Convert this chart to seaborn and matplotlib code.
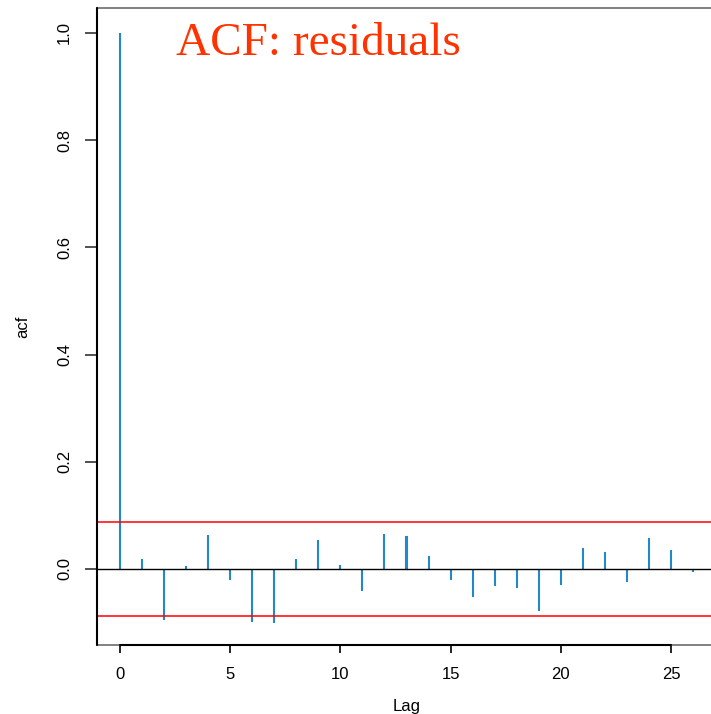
import matplotlib
matplotlib.use("Agg")
import matplotlib.pyplot as plt
import matplotlib.transforms as mtransforms
import seaborn as sns
import pandas as pd

lags = list(range(27))
acf_values = [1.0, 0.019, -0.096, 0.005, 0.064, -0.021, -0.098, -0.100, 0.018,
              0.055, 0.008, -0.041, 0.066, 0.060, 0.025, -0.021, -0.052, -0.032,
              -0.036, -0.078, -0.030, 0.039, 0.032, -0.024, 0.058, 0.036, -0.006]
conf_bound = 0.0877
x_ticks = [0, 5, 10, 15, 20, 25]
y_ticks = [0.0, 0.2, 0.4, 0.6, 0.8, 1.0]
y_tick_labels = ["0.0", "0.2", "0.4", "0.6", "0.8", "1.0"]
title = "ACF: residuals"

sns.set_style("white")
plt.rcParams["font.family"] = ["Liberation Sans", "DejaVu Sans"]
plt.rcParams["text.color"] = "black"
plt.rcParams["axes.labelcolor"] = "black"
plt.rcParams["xtick.color"] = "black"
plt.rcParams["ytick.color"] = "black"

df = pd.DataFrame({"lag": lags, "acf": acf_values})

fig = plt.figure(figsize=(7.11, 7.14), dpi=100)
ax = fig.add_axes([97/711, 1 - 645/714, (716 - 97)/711, (645 - 8)/714])

blue = "#2188c9"
sns.barplot(data=df, x="lag", y="acf", native_scale=True, width=0.001,
            color=blue, saturation=1, edgecolor=blue, linewidth=1.5, ax=ax)

ax.axhline(0, color="black", lw=1, zorder=3)
ax.axhline(conf_bound, color="#ff0000", lw=1.1, zorder=3)
ax.axhline(-conf_bound, color="#ff0000", lw=1.1, zorder=3)

ax.set_xlim(-1.04, 27.04)
ax.set_ylim(-0.1418, 1.0466)
ax.set_xticks(x_ticks)
ax.set_xticklabels([str(t) for t in x_ticks])
ax.set_yticks(y_ticks)
ax.set_yticklabels(y_tick_labels, rotation=90, va="center")

for s in ax.spines.values():
    s.set_visible(True)
    s.set_color("#777777")
    s.set_linewidth(1.3)

# R-style axis lines (black) spanning from first to last tick
trans_x = mtransforms.blended_transform_factory(ax.transData, ax.transAxes)
ax.plot([0, 25], [0, 0], transform=trans_x, color="black", lw=1.5, clip_on=False, zorder=5)
trans_y = mtransforms.blended_transform_factory(ax.transAxes, ax.transData)
ax.plot([0, 0], [-0.1418, 1.0466], transform=trans_y, color="black", lw=1.5, clip_on=False, zorder=5)

ax.tick_params(axis="x", direction="out", length=6, width=1.2, color="black",
               pad=10, labelsize=12, bottom=True, labelcolor="black")
ax.tick_params(axis="y", direction="out", length=9, width=1.2, color="#333333",
               pad=9, labelsize=12, left=True, labelcolor="black")

ax.set_xlabel("Lag", fontsize=12, labelpad=12, color="black")
ax.set_ylabel("acf", fontsize=12, labelpad=19, color="black")

fig.text(318/711, 1 - 55/714, title, ha="center", va="baseline",
         fontsize=34, color="#ff3300", family=["Liberation Serif", "DejaVu Serif"])

fig.savefig("out.png", dpi=100)
